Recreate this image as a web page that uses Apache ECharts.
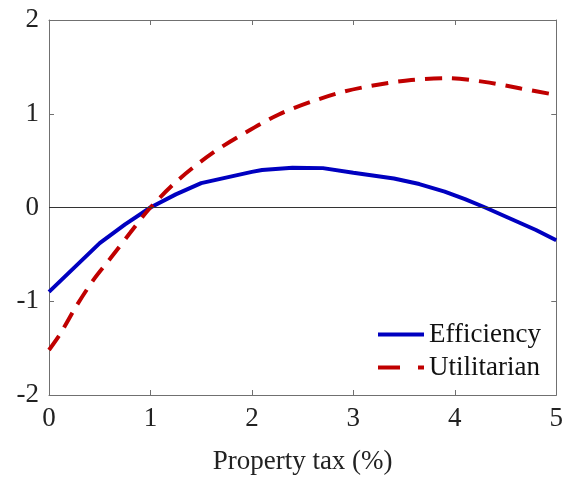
<!DOCTYPE html>
<html>
<head>
<meta charset="utf-8">
<script src="https://cdn.jsdelivr.net/npm/echarts@6/dist/echarts.min.js"></script>
<style>
  html, body { margin: 0; padding: 0; background: #fff; }
  #chart { width: 566px; height: 480px; }
</style>
</head>
<body>
<div id="chart"></div>
<script>
// 数据
const effX = [0, 0.5, 0.75, 1, 1.25, 1.5, 2, 2.1, 2.4, 2.7, 3, 3.4, 3.65, 3.9, 4.1, 4.3, 4.55, 4.8, 5];
const effY = [-0.9, -0.38, -0.18, 0.0, 0.14, 0.26, 0.38, 0.40, 0.425, 0.42, 0.37, 0.31, 0.25, 0.17, 0.09, 0.0, -0.12, -0.24, -0.35];

const utilX = [0, 0.11, 0.27, 0.44, 0.6, 0.8, 1, 1.28, 1.61, 1.94, 2.26, 2.59, 2.92, 3.24, 3.57, 3.93, 4.29, 4.65, 5];
const utilY = [-1.52, -1.35, -1.05, -0.77, -0.55, -0.27, 0.0, 0.30, 0.58, 0.80, 0.99, 1.13, 1.24, 1.31, 1.36, 1.38, 1.34, 1.27, 1.20];

const xTicks = [0, 1, 2, 3, 4, 5];
const yTicks = [-2, -1, 0, 1, 2];

const font = 'Liberation Serif';
const axisColor = '#707070';

const pairs = (xs, ys) => xs.map((x, i) => [x, ys[i]]);

// 坐标轴通用
const baseAxis = {
    type: 'value',
    interval: 1,
    axisLine: { show: true, onZero: false, lineStyle: { color: axisColor, width: 1 } },
    axisTick: { show: true, inside: true, length: 5, lineStyle: { color: axisColor } },
    splitLine: { show: false },
};

const chart = echarts.init(document.getElementById('chart'));
chart.setOption({
    animation: false,
    grid: { left: 49, right: 9, top: 20, bottom: 84, containLabel: false },
    legend: {
        orient: 'vertical',
        left: 373,
        top: 316,
        itemWidth: 46,
        itemHeight: 4,
        itemGap: 6,
        symbolKeepAspect: false,
        textStyle: { fontFamily: font, fontSize: 27, color: '#111' },
        data: [
            { name: 'Efficiency', icon: 'path://M0,0H46V4H0Z' },
            { name: 'Utilitarian', icon: 'path://M0,0H22V4H0ZM40,0H46V4H40Z' },
        ],
    },
    xAxis: [
        {
            ...baseAxis,
            position: 'bottom',
            min: xTicks[0], max: xTicks[xTicks.length - 1],
            axisLabel: { fontFamily: font, fontSize: 27, color: '#222', margin: 10 },
            name: 'Property tax (%)',
            nameLocation: 'middle',
            nameGap: 53,
            nameTextStyle: { fontFamily: font, fontSize: 27, color: '#222' },
        },
        {
            ...baseAxis,
            position: 'top',
            min: xTicks[0], max: xTicks[xTicks.length - 1],
            axisLabel: { show: false },
        },
    ],
    yAxis: [
        {
            ...baseAxis,
            position: 'left',
            min: yTicks[0], max: yTicks[yTicks.length - 1],
            axisLabel: { fontFamily: font, fontSize: 27, color: '#222', margin: 10 },
        },
        {
            ...baseAxis,
            position: 'right',
            min: yTicks[0], max: yTicks[yTicks.length - 1],
            axisLabel: { show: false },
        },
    ],
    series: [
        {
            name: 'zero',
            type: 'line',
            data: [],
            markLine: {
                silent: true,
                symbol: 'none',
                label: { show: false },
                lineStyle: { color: '#333', width: 1, type: 'solid' },
                data: [{ yAxis: 0 }],
            },
        },
        {
            name: 'Efficiency',
            type: 'line',
            data: pairs(effX, effY),
            showSymbol: false,
            symbol: 'none',
            color: '#0000c0',
            lineStyle: { color: '#0000c0', width: 4 },
        },
        {
            name: 'Utilitarian',
            type: 'line',
            data: pairs(utilX, utilY),
            showSymbol: false,
            symbol: 'none',
            smooth: 0.3,
            color: '#c00000',
            lineStyle: { color: '#c00000', width: 4, type: [17, 10] },
        },
    ],
});
</script>
</body>
</html>
